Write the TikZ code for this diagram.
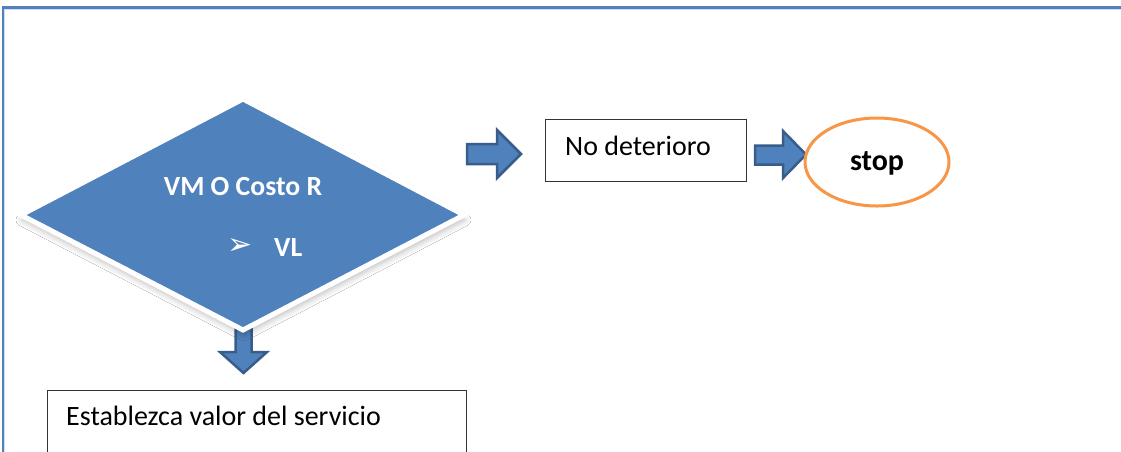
\documentclass[tikz,border=0pt]{standalone}
\usepackage{fontspec}
\setmainfont{Carlito}
\newfontfamily\dejavu{DejaVu Sans}
\usetikzlibrary{shadows.blur}
\definecolor{accblue}{HTML}{4F81BD}
\definecolor{darkblue}{HTML}{385D8A}
\definecolor{accorange}{HTML}{F79646}
\definecolor{boxline}{HTML}{333333}
\tikzset{
  blockarrow/.style={fill=accblue, draw=darkblue, line width=2.5pt, line join=miter},
  plainbox/.style={draw=boxline, line width=1.2pt, fill=white, inner sep=0pt},
  regtext/.style={font=\fontsize{28pt}{32pt}\selectfont, text=black, inner sep=0pt},
  boldwhite/.style={font=\fontsize{27.7pt}{32pt}\selectfont\bfseries, text=white, inner sep=0pt},
}
\begin{document}
\begin{tikzpicture}[x=1pt,y=-1pt]
\useasboundingbox (0,0) rectangle (1121,451);
\clip (0,0) rectangle (1121,451);
\fill[white] (0,0) rectangle (1121,451);
% frame
\draw[accblue, line width=2.5pt] (3,452) -- (3,7.5) -- (1122,7.5);
\draw[accblue!25, line width=1pt] (4.8,452) -- (4.8,9.8) -- (1122,9.8);
% down block arrow
\draw[blockarrow] (235.5,322) -- (235.5,352) -- (220,352) -- (243.5,373) -- (267,352) -- (251.5,352) -- (251.5,322) -- cycle;
% diamond
\draw[white, line width=5pt, fill=accblue, line join=miter,
  blur shadow={shadow xshift=1pt, shadow yshift=-5pt, shadow opacity=25, shadow blur radius=6pt}]
  (243,99) coordinate (dtopv) -- (464,215) coordinate (drightv) -- (243,330) coordinate (dbotv) -- (21,215) coordinate (dleftv) -- cycle;
\node[boldwhite] (vm) at (243,187) {VM O Costo R};
\node[text=white, inner sep=0pt, font=\dejavu\fontsize{30pt}{34pt}\selectfont] (bul) at (240,246) {➢};
\node[boldwhite, anchor=west] (vl) at (274,248) {VL};
% right arrow 1
\draw[blockarrow] (467,144) -- (497,144) -- (497,130) -- (521,154) -- (497,178) -- (497,164) -- (467,164) -- cycle;
% box No deterioro
\node[plainbox, minimum width=201pt, minimum height=62pt, anchor=north west] (nobox) at (545,119) {};
\node[regtext, anchor=west] (notext) at (565,146) {No deterioro};
% right arrow 2
\draw[blockarrow] (755,145.5) -- (783,145.5) -- (783,131) -- (806,154.5) -- (783,178) -- (783,164.5) -- (755,164.5) -- cycle;
% ellipse stop
\draw[accorange, line width=3pt, fill=white] (877,162) ellipse [x radius=72, y radius=44];
\node[font=\fontsize{30pt}{34pt}\selectfont\bfseries, inner sep=0pt] (stop) at (877,163) {stop};
% box Establezca
\node[plainbox, minimum width=419pt, minimum height=80pt, anchor=north west] (estbox) at (47,390) {};
\node[regtext, anchor=west] (esttext) at (66,416) {Establezca valor del servicio};
\end{tikzpicture}
\end{document}
